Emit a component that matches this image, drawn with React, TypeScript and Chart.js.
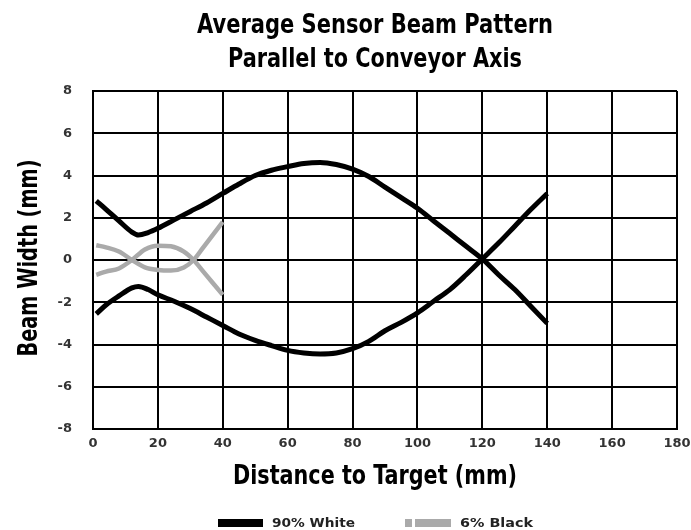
import React, { useEffect, useRef } from 'react';
import { Chart, registerables } from 'chart.js';

Chart.register(...registerables);

// ---- texts ----
const titleLines = ['Average Sensor Beam Pattern', 'Parallel to Conveyor Axis'];
const xAxisTitle = 'Distance to Target (mm)';
const yAxisTitle = 'Beam Width (mm)';
const seriesNames = ['90% White', '6% Black'];

// ---- ticks ----
const xTicks = [0, 20, 40, 60, 80, 100, 120, 140, 160, 180];
const yTicks = [-8, -6, -4, -2, 0, 2, 4, 6, 8];

// ---- 90% White (two branches) ----
const whiteX = [1, 4, 8, 12, 14, 17, 20, 25, 30, 35, 40, 45, 50, 55, 60, 65, 70, 75, 80, 85, 90, 95, 100, 105, 110, 115, 120, 125, 130, 135, 140];
const whiteUpper = [2.8, 2.4, 1.85, 1.32, 1.18, 1.3, 1.5, 1.9, 2.3, 2.7, 3.15, 3.6, 4.0, 4.25, 4.42, 4.57, 4.62, 4.52, 4.3, 3.95, 3.45, 2.95, 2.45, 1.85, 1.25, 0.65, 0.05, -0.7, -1.4, -2.2, -3.0];
const whiteLower = [-2.55, -2.13, -1.7, -1.32, -1.25, -1.4, -1.65, -1.95, -2.3, -2.7, -3.1, -3.5, -3.8, -4.05, -4.28, -4.4, -4.45, -4.4, -4.2, -3.85, -3.35, -2.95, -2.5, -1.95, -1.4, -0.7, 0.05, 0.8, 1.6, 2.4, 3.15];

// ---- 6% Black (two branches) ----
const blackX = [1, 4, 8, 12, 16, 20, 24, 28, 31, 34, 37, 40];
const blackBranchA = [0.7, 0.6, 0.4, 0.0, -0.35, -0.47, -0.5, -0.35, 0.0, 0.6, 1.2, 1.8];
const blackBranchB = [-0.7, -0.55, -0.4, 0.0, 0.5, 0.68, 0.65, 0.4, 0.0, -0.55, -1.1, -1.65];

const WHITE_COLOR = '#000000';
const BLACK_COLOR = '#aaaaaa';

const toPoints = (xs: number[], ys: number[]) => xs.map((x, i) => ({ x, y: ys[i] }));

const TEXT_FONT = "'Liberation Sans Narrow', 'DejaVu Sans Condensed', 'Liberation Sans', Arial, sans-serif";
const TICK_FONT = "'DejaVu Sans', 'Liberation Sans', sans-serif";

function drawFitted(
  ctx: CanvasRenderingContext2D,
  text: string,
  cx: number,
  baseY: number,
  width: number,
  size: number,
  rotation = 0,
  color = '#000'
) {
  ctx.save();
  ctx.font = `bold ${size}px ${TEXT_FONT}`;
  const w = ctx.measureText(text).width || 1;
  ctx.translate(cx, baseY);
  if (rotation) ctx.rotate(rotation);
  ctx.scale(width / w, 1);
  ctx.fillStyle = color;
  ctx.textAlign = 'center';
  ctx.textBaseline = 'alphabetic';
  ctx.fillText(text, 0, 0);
  ctx.restore();
}

const textPlugin = {
  id: 'sensorTexts',
  afterDraw(chart: any) {
    const ctx: CanvasRenderingContext2D = chart.ctx;
    // title
    drawFitted(ctx, titleLines[0], 375, 33, 356, 27);
    drawFitted(ctx, titleLines[1], 375, 67, 294, 27);
    // axis titles
    drawFitted(ctx, xAxisTitle, 375, 484, 284, 27);
    drawFitted(ctx, yAxisTitle, 37, 258, 197, 27, -Math.PI / 2);
    // legend
    ctx.save();
    ctx.fillStyle = WHITE_COLOR;
    ctx.fillRect(218, 519, 45, 8);
    ctx.fillStyle = BLACK_COLOR;
    ctx.fillRect(405, 519, 7, 8);
    ctx.fillRect(415, 519, 36, 8);
    ctx.restore();
    ctx.save();
    ctx.font = `bold 12px ${TEXT_FONT}`;
    ctx.fillStyle = '#222';
    ctx.textAlign = 'left';
    ctx.textBaseline = 'alphabetic';
    const drawLeft = (t: string, x: number, w: number) => {
      const mw = ctx.measureText(t).width || 1;
      ctx.save();
      ctx.translate(x, 527);
      ctx.scale(w / mw, 1);
      ctx.fillText(t, 0, 0);
      ctx.restore();
    };
    drawLeft(seriesNames[0], 272, 83);
    drawLeft(seriesNames[1], 460, 73);
    ctx.restore();
  },
};

export default function App() {
  const ref = useRef<HTMLCanvasElement | null>(null);

  useEffect(() => {
    document.body.style.margin = '0';
    const canvas = ref.current;
    if (!canvas) return;
    const lineBase = {
      pointRadius: 0,
      pointHoverRadius: 0,
      fill: false,
      cubicInterpolationMode: 'monotone' as const,
    };
    const chart = new Chart(canvas, {
      type: 'line',
      data: {
        datasets: [
          { ...lineBase, label: seriesNames[0], data: toPoints(whiteX, whiteUpper), borderColor: WHITE_COLOR, backgroundColor: WHITE_COLOR, borderWidth: 5 },
          { ...lineBase, label: seriesNames[0], data: toPoints(whiteX, whiteLower), borderColor: WHITE_COLOR, backgroundColor: WHITE_COLOR, borderWidth: 5 },
          { ...lineBase, label: seriesNames[1], data: toPoints(blackX, blackBranchA), borderColor: BLACK_COLOR, backgroundColor: BLACK_COLOR, borderWidth: 4.5 },
          { ...lineBase, label: seriesNames[1], data: toPoints(blackX, blackBranchB), borderColor: BLACK_COLOR, backgroundColor: BLACK_COLOR, borderWidth: 4.5 },
        ],
      },
      options: {
        responsive: false,
        animation: false,
        events: [],
        layout: { padding: { top: 91, right: 14, bottom: 0, left: 0 } },
        plugins: {
          legend: { display: false },
          title: { display: false },
          tooltip: { enabled: false },
        },
        scales: {
          x: {
            type: 'linear',
            min: 0,
            max: 180,
            afterBuildTicks: (s: any) => {
              s.ticks = xTicks.map((v) => ({ value: v }));
            },
            afterFit: (s: any) => {
              s.height = 101;
              s.paddingLeft = 0;
              s.paddingRight = 0;
            },
            grid: { color: '#000', lineWidth: 2, drawTicks: false },
            border: { color: '#000', width: 2 },
            ticks: {
              font: { family: TICK_FONT, size: 13, weight: 'bold' },
              color: '#333',
              padding: 7,
              maxRotation: 0,
              autoSkip: false,
            },
          },
          y: {
            type: 'linear',
            min: -8,
            max: 8,
            afterBuildTicks: (s: any) => {
              s.ticks = yTicks.map((v) => ({ value: v }));
            },
            afterFit: (s: any) => {
              s.width = 93;
              s.paddingTop = 0;
              s.paddingBottom = 0;
            },
            grid: { color: '#000', lineWidth: 2, drawTicks: false },
            border: { color: '#000', width: 2 },
            ticks: {
              font: { family: TICK_FONT, size: 13, weight: 'bold' },
              color: '#333',
              padding: 21,
              autoSkip: false,
            },
          },
        },
      },
      plugins: [textPlugin],
    });
    return () => chart.destroy();
  }, []);

  return (
    <div style={{ position: 'fixed', left: 0, top: 0, width: 691, height: 530, background: '#fff' }}>
      <canvas ref={ref} width={691} height={530} />
    </div>
  );
}
